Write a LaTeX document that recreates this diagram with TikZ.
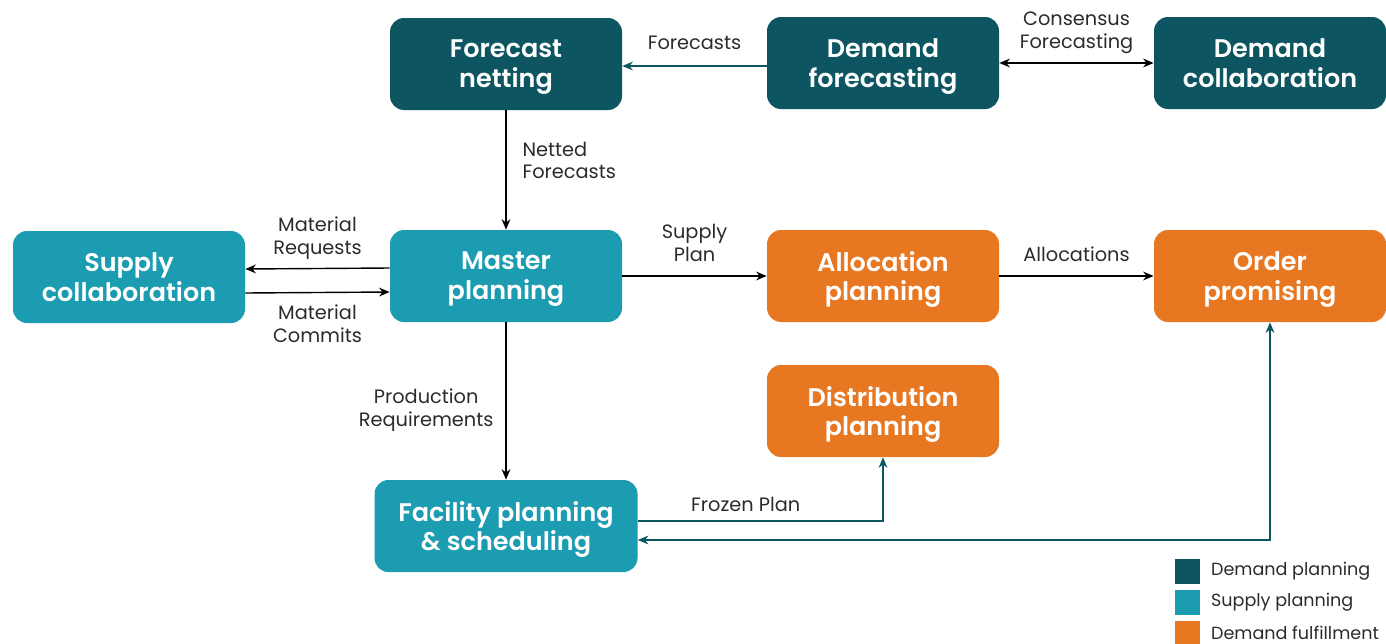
\documentclass[tikz,border=0pt]{standalone}
\usepackage{fontspec}
\setmainfont{Poppins}
\newfontfamily\boxfont{Poppins SemiBold}
\usepackage{tikz}
\usetikzlibrary{arrows.meta,positioning}
\definecolor{dpteal}{HTML}{0E5562}
\definecolor{spteal}{HTML}{1C9CB1}
\definecolor{dforange}{HTML}{E87722}
\definecolor{lbltext}{HTML}{2B2B2B}

\begin{document}
\begin{tikzpicture}[
  box/.style={rounded corners=0.28cm,minimum width=4.64cm,minimum height=1.84cm,
    text=white,align=center,text depth=-0.08cm,font=\boxfont\fontsize{14.5}{17}\selectfont},
  lbl/.style={font=\fontsize{11}{13}\selectfont,text=lbltext,align=center},
  flow/.style={-{Stealth[length=6pt,width=5pt]},line width=0.8pt},
  twoway/.style={{Stealth[length=6pt,width=5pt]}-{Stealth[length=6pt,width=5pt]},line width=0.8pt},
  key/.style={minimum size=0.5cm,inner sep=0pt},
  keytext/.style={font=\fontsize{10}{12}\selectfont,text=lbltext,anchor=west}]
  \useasboundingbox (0,0) rectangle (27.72,12.86);
  % demand planning row
  \node[box,fill=dpteal] (netting) at (10.12,11.58) {Forecast\\netting};
  \node[box,fill=dpteal] (dfcast) at (17.66,11.6) {Demand\\forecasting};
  \node[box,fill=dpteal] (dcollab) at (25.4,11.6) {Demand\\collaboration};
  % supply planning / fulfillment
  \node[box,fill=spteal] (supcollab) at (2.58,7.32) {Supply\\collaboration};
  \node[box,fill=spteal] (master) at (10.12,7.34) {Master\\planning};
  \node[box,fill=dforange] (alloc) at (17.66,7.34) {Allocation\\planning};
  \node[box,fill=dforange] (order) at (25.4,7.34) {Order\\promising};
  \node[box,fill=dforange] (distrib) at (17.66,4.64) {Distribution\\planning};
  \node[box,fill=spteal,minimum width=5.26cm] (facility) at (10.12,2.34) {Facility planning\\\& scheduling};

  \draw[flow,dpteal] (dfcast.west |- 0,11.54) -- (netting.east |- 0,11.54)
    node[lbl,midway,above=0.2cm] {Forecasts};
  \draw[twoway,black] (dfcast.east) -- (dcollab.west)
    node[lbl,midway,above=0.05cm] {Consensus\\Forecasting};
  \draw[flow,black] (netting) -- (master)
    node[lbl,pos=0.42,right=0.2cm,align=left] {Netted\\Forecasts};
  \draw[flow,black] ([yshift=0.16cm]master.west) -- ([yshift=0.16cm]supcollab.east)
    node[lbl,midway,above=0.05cm] {Material\\Requests};
  \draw[flow,black] ([yshift=-0.32cm]supcollab.east) -- ([yshift=-0.32cm]master.west)
    node[lbl,midway,below=0.12cm] {Material\\Commits};
  \draw[flow,black] (master) -- (alloc)
    node[lbl,midway,above=0.15cm] {Supply\\Plan};
  \draw[flow,black] (alloc) -- (order)
    node[lbl,midway,above=0.15cm] {Allocations};
  \draw[flow,black] (master) -- (facility)
    node[lbl,pos=0.56,left=0.12cm] {Production\\Requirements};
  \draw[flow,dpteal] ([yshift=0.1cm]facility.east) -| (distrib.south)
    node[lbl,pos=0.22,above=0.05cm] {Frozen Plan};
  \draw[twoway,dpteal] (order.south) |- ([yshift=-0.28cm]facility.east);

  % legend
  \node[key,fill=dpteal] (k1) at (23.74,1.44) {};
  \node[key,fill=spteal] (k2) at (23.74,0.82) {};
  \node[key,fill=dforange] (k3) at (23.74,0.2) {};
  \node[keytext] at ([xshift=0.1cm]k1.east) {Demand planning};
  \node[keytext] at ([xshift=0.1cm]k2.east) {Supply planning};
  \node[keytext] at ([xshift=0.1cm]k3.east) {Demand fulfillment};
\end{tikzpicture}
\end{document}
